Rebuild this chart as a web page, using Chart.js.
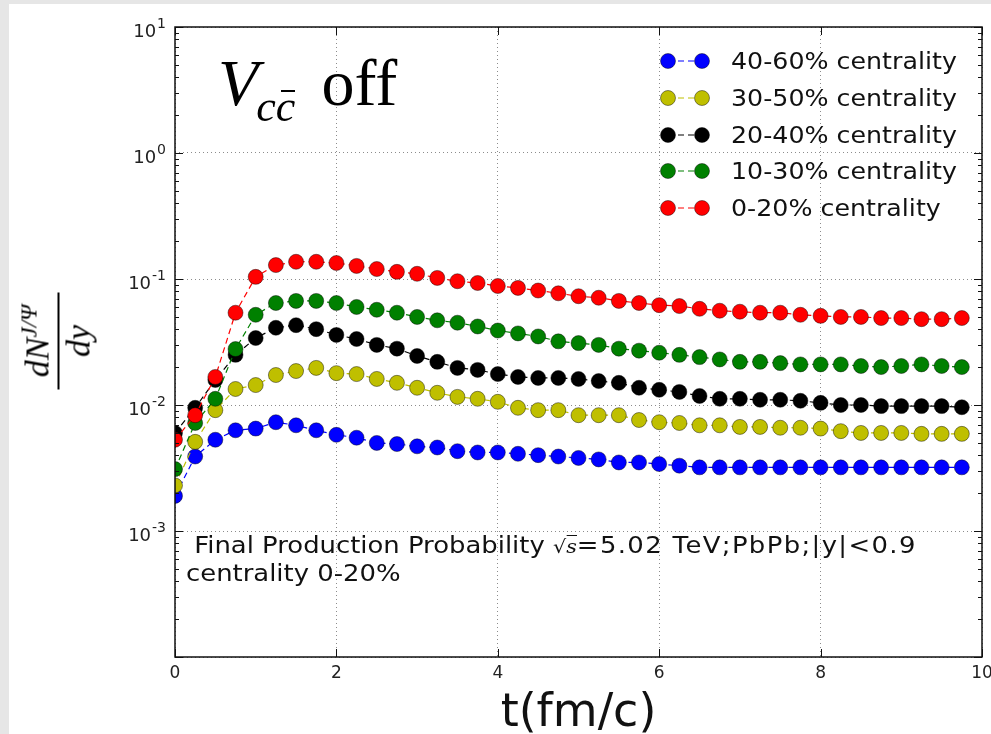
<!DOCTYPE html>
<html>
<head>
<meta charset="utf-8">
<script src="https://cdn.jsdelivr.net/npm/chart.js@4.4.1/dist/chart.umd.min.js"></script>
<style>
  html, body { margin: 0; padding: 0; }
  body { width: 991px; height: 734px; background: #e6e6e6; position: relative; overflow: hidden; }
  #sheet { position: absolute; left: 9px; top: 4px; right: 0; bottom: 0; background: #fff; }
  #chart { position: absolute; left: 0; top: 0; }
  #title { position: absolute; left: 218px; top: 50px; font: 66px/66px 'Liberation Serif', serif; color: #000; white-space: nowrap; }
  #title i { font-style: italic; }
  #title .sub { font-size: 44px; position: relative; top: 16px; margin-left: -2px; }
  #title .bar { position: relative; display: inline-block; }
  #title .bar::before { content: ''; position: absolute; left: 5px; right: 0; top: 0.36em; border-top: 2px solid #000; }
  #title .off { margin-left: 26px; }
  #ylab { position: absolute; left: 58px; top: 341px; transform: translate(-50%, -50%) rotate(-90deg);
          font: italic 34px/1 'Liberation Serif', serif; color: #000; display: flex; flex-direction: column; align-items: center; }
  #ylab sup { font-size: 23px; vertical-align: 0; position: relative; top: -12px; }
  #ylab .fbar { width: 97px; border-top: 2px solid #000; margin: 3px 0 2px; }
  #note { position: absolute; left: 186px; top: 532px; font: 22.5px/27px 'DejaVu Sans', sans-serif; color: #111;
          transform: scaleX(1.15); transform-origin: 0 0; white-space: pre; }
  #note .m { font-family: 'DejaVu Serif', serif; font-size: 18px; }
  #note .ov { font-style: italic; border-top: 1px solid #111; }
  #note .w { letter-spacing: 1.2px; }
  #legend { position: absolute; left: 0; top: 0; }
  .lrow { position: absolute; left: 659px; height: 24px; display: flex; align-items: center; }
  .lrow span { margin-left: 18px; font: 23px 'DejaVu Sans', sans-serif; color: #111; transform: scaleX(1.1); transform-origin: 0 50%; white-space: nowrap; }
</style>
</head>
<body>
<div id="sheet"></div>
<canvas id="chart" width="991" height="734"></canvas>
<div id="title"><i>V</i><span class="sub"><i>c</i><i class="bar">c</i></span><span class="off">off</span></div>
<div id="ylab"><div class="num">dN<sup>J/Ψ</sup></div><div class="fbar"></div><div class="den">dy</div></div>
<div id="note"> Final Production Probability <span class="m">√<span class="ov">s</span></span><span class="w">=5.02 TeV;PbPb;|y|&lt;0.9</span>
centrality 0-20%</div>
<div id="legend"></div>
<script>
// time grid (fm/c)
const times = [0, 0.25, 0.5, 0.75, 1, 1.25, 1.5, 1.75, 2, 2.25, 2.5, 2.75, 3, 3.25, 3.5, 3.75,
  4, 4.25, 4.5, 4.75, 5, 5.25, 5.5, 5.75, 6, 6.25, 6.5, 6.75, 7, 7.25, 7.5, 7.75,
  8, 8.25, 8.5, 8.75, 9, 9.25, 9.5, 9.75];

// dN/dy per centrality class
const cent4060 = [0.0019, 0.0039, 0.0053, 0.0063, 0.0065, 0.0073, 0.0069, 0.0063, 0.0058, 0.0055,
  0.0050, 0.0049, 0.0047, 0.0046, 0.0043, 0.0042, 0.0042, 0.0041, 0.0040, 0.0039,
  0.0038, 0.0037, 0.0035, 0.0035, 0.0034, 0.0033, 0.0032, 0.0032, 0.0032, 0.0032,
  0.0032, 0.0032, 0.0032, 0.0032, 0.0032, 0.0032, 0.0032, 0.0032, 0.0032, 0.0032];
const cent3050 = [0.0023, 0.0051, 0.0091, 0.0134, 0.0144, 0.0173, 0.0186, 0.0197, 0.0179, 0.0176,
  0.0161, 0.0150, 0.0137, 0.0125, 0.0116, 0.0112, 0.0106, 0.0095, 0.0091, 0.0091,
  0.0083, 0.0083, 0.0083, 0.0076, 0.0073, 0.0072, 0.0069, 0.0069, 0.0067, 0.0067,
  0.0066, 0.0066, 0.0065, 0.0062, 0.0060, 0.0060, 0.0060, 0.0059, 0.0059, 0.0059];
const cent2040 = [0.0060, 0.0095, 0.0158, 0.025, 0.034, 0.041, 0.043, 0.040, 0.036, 0.0334,
  0.030, 0.028, 0.0245, 0.022, 0.0197, 0.019, 0.0176, 0.0167, 0.0164, 0.0164,
  0.0161, 0.0155, 0.0150, 0.0137, 0.0132, 0.0127, 0.0118, 0.0112, 0.0112, 0.0110,
  0.0110, 0.0108, 0.0104, 0.0100, 0.0100, 0.0098, 0.0098, 0.0098, 0.0098, 0.0096];
const cent1030 = [0.0031, 0.0072, 0.0112, 0.0278, 0.052, 0.0645, 0.067, 0.067, 0.0645, 0.060,
  0.057, 0.054, 0.050, 0.047, 0.045, 0.042, 0.039, 0.037, 0.035, 0.032,
  0.031, 0.030, 0.028, 0.027, 0.026, 0.025, 0.024, 0.023, 0.022, 0.022,
  0.0215, 0.021, 0.021, 0.021, 0.0204, 0.020, 0.0204, 0.021, 0.0204, 0.020];
const cent020 = [0.0053, 0.0083, 0.0167, 0.054, 0.104, 0.129, 0.137, 0.137, 0.134, 0.127,
  0.120, 0.114, 0.110, 0.102, 0.096, 0.093, 0.088, 0.085, 0.081, 0.077,
  0.073, 0.071, 0.067, 0.0645, 0.062, 0.061, 0.058, 0.056, 0.055, 0.054,
  0.054, 0.052, 0.051, 0.050, 0.050, 0.049, 0.049, 0.048, 0.048, 0.049];

const seriesNames = ['40-60% centrality', '30-50% centrality', '20-40% centrality', '10-30% centrality', '0-20% centrality'];
const seriesValues = [cent4060, cent3050, cent2040, cent1030, cent020];
const seriesColors = ['#0000ff', '#bfbf00', '#000000', '#008000', '#ff0000'];

const xTicks = [0, 2, 4, 6, 8, 10];
const yTicks = [1e-4, 1e-3, 1e-2, 1e-1, 1, 10];

// matplotlib style frame, inward ticks and 10^n labels
const frameTicks = {
  id: 'frameTicks',
  afterDatasetsDraw(chart) {
    const { ctx, chartArea: a, scales: { x, y } } = chart;
    ctx.save();
    ctx.strokeStyle = '#111';
    ctx.lineWidth = 1;
    ctx.beginPath();
    for (let e = -4; e <= 1; e++) {
      for (let m = 1; m <= 9; m++) {
        const v = m * Math.pow(10, e);
        if (v > 10) break;
        const py = Math.round(y.getPixelForValue(v)) + 0.5;
        const len = m === 1 ? 8 : 4;
        ctx.moveTo(a.left, py); ctx.lineTo(a.left + len, py);
        ctx.moveTo(a.right, py); ctx.lineTo(a.right - len, py);
      }
    }
    xTicks.forEach(t => {
      const px = Math.round(x.getPixelForValue(t)) + 0.5;
      ctx.moveTo(px, a.bottom); ctx.lineTo(px, a.bottom - 8);
      ctx.moveTo(px, a.top); ctx.lineTo(px, a.top + 8);
    });
    ctx.stroke();
    ctx.lineWidth = 1.5;
    ctx.strokeRect(a.left, a.top, a.right - a.left, a.bottom - a.top);

    // y labels: "10" with raised exponent
    ctx.fillStyle = '#222';
    ctx.textBaseline = 'alphabetic';
    y.ticks.forEach(t => {
      const e = Math.round(Math.log10(t.value));
      if (e === -4) return;
      const py = y.getPixelForValue(t.value);
      const right = 166;
      ctx.font = '14px DejaVu Sans';
      const ew = ctx.measureText(String(e)).width;
      ctx.textAlign = 'left';
      ctx.fillText(String(e), right - ew, py + 1);
      ctx.font = '18px DejaVu Sans';
      ctx.textAlign = 'right';
      ctx.fillText('10', right - ew - 1, py + 10);
    });
    ctx.restore();
  }
};

const drawOrder = [4, 3, 2, 1, 0];
const datasets = seriesNames.map((name, i) => ({
  label: name,
  data: times.map((t, k) => ({ x: t, y: seriesValues[i][k] })),
  borderColor: seriesColors[i],
  backgroundColor: seriesColors[i],
  borderWidth: 1.2,
  borderDash: [6, 4],
  pointRadius: 7.5,
  pointBackgroundColor: seriesColors[i],
  pointBorderColor: 'rgba(0,0,0,0.55)',
  pointBorderWidth: 0.8,
  tension: 0,
  clip: 0,
  order: drawOrder[i]
}));

const gridColor = 'rgba(0,0,0,0.45)';

new Chart(document.getElementById('chart'), {
  type: 'line',
  data: { datasets },
  options: {
    responsive: false,
    animation: false,
    devicePixelRatio: 1,
    layout: { padding: { top: 27, right: 9, left: 0, bottom: 0 } },
    plugins: { legend: { display: false }, tooltip: { enabled: false } },
    scales: {
      x: {
        type: 'linear',
        min: 0,
        max: 10,
        afterBuildTicks: s => { s.ticks = xTicks.map(v => ({ value: v })); },
        ticks: { padding: 6, color: '#222', maxRotation: 0, font: { family: 'DejaVu Sans', size: 17 } },
        grid: { color: gridColor, drawTicks: false, lineWidth: 1 },
        border: { display: false, dash: [1, 3] },
        title: {
          display: true, text: 't(fm/c)', color: '#111',
          font: { family: 'DejaVu Sans', size: 46, lineHeight: 1 },
          padding: { top: 0, bottom: -3 }
        },
        afterFit: s => { s.height = 77; s.paddingLeft = 0; s.paddingRight = 0; }
      },
      y: {
        type: 'logarithmic',
        min: 1e-4,
        max: 10,
        afterBuildTicks: s => { s.ticks = yTicks.map(v => ({ value: v })); },
        ticks: { display: false },
        grid: { color: gridColor, drawTicks: false, lineWidth: 1 },
        border: { display: false, dash: [1, 3] },
        afterFit: s => { s.width = 175; s.paddingTop = 0; s.paddingBottom = 0; }
      }
    }
  },
  plugins: [frameTicks]
});

// legend rows, matplotlib style marker pair
const legend = document.getElementById('legend');
seriesNames.forEach((name, i) => {
  const row = document.createElement('div');
  row.className = 'lrow';
  row.style.top = (61 + i * 36.75 - 12) + 'px';
  const c = seriesColors[i];
  row.innerHTML =
    '<svg width="54" height="24"><line x1="9" y1="12" x2="43" y2="12" stroke="' + c + '" stroke-width="1.2" stroke-dasharray="6 4"/>' +
    '<circle cx="9" cy="12" r="7.5" fill="' + c + '" stroke="rgba(0,0,0,0.55)" stroke-width="0.8"/>' +
    '<circle cx="43" cy="12" r="7.5" fill="' + c + '" stroke="rgba(0,0,0,0.55)" stroke-width="0.8"/></svg>' +
    '<span>' + name + '</span>';
  legend.appendChild(row);
});
</script>
</body>
</html>
